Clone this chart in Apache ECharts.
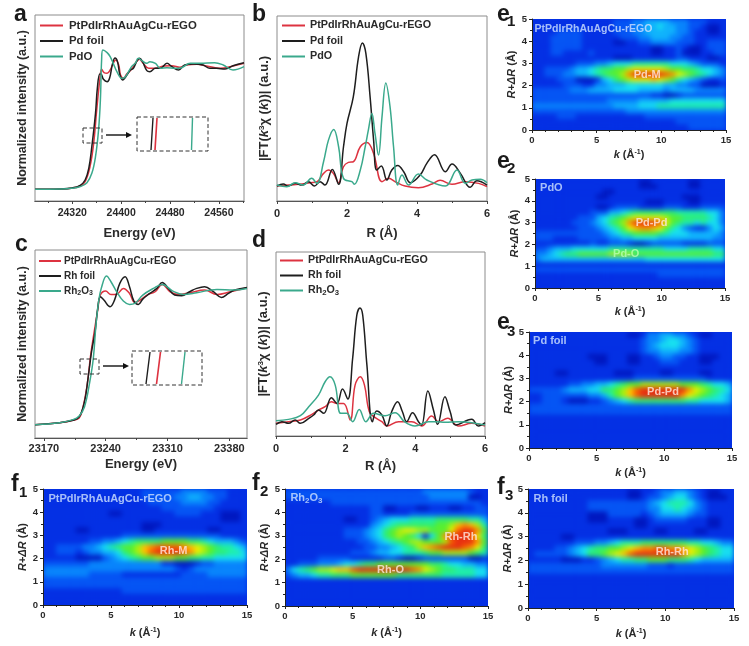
<!DOCTYPE html>
<html><head><meta charset="utf-8">
<style>
html,body{margin:0;padding:0;background:#fff}
#main{position:absolute;left:0;top:0;width:749px;height:646px;z-index:5}
.hw{position:absolute;overflow:hidden;background:#0430e4}
.hc{position:absolute;left:0;top:0;width:100%;height:100%;filter:blur(2.6px)}
</style>
<script src="https://cdn.jsdelivr.net/npm/echarts@6/dist/echarts.min.js"></script>
</head><body><div id="main"></div>
<script>
// ---------- line data: [x, intensity]
const aBlack=[[24259,35],[24300,36],[24319,39],[24333,47],[24341,63],[24347,98],[24352,163],[24358,263],[24361,338],[24365,381],[24367,381],[24371,365],[24377,358],[24381,368],[24386,413],[24390,429],[24394,418],[24398,378],[24403,363],[24407,371],[24415,393],[24420,398],[24426,421],[24430,428],[24435,418],[24442,391],[24447,388],[24456,398],[24464,398],[24475,413],[24483,403],[24494,393],[24504,408],[24518,411],[24534,408],[24545,398],[24556,398],[24570,396],[24583,406],[24601,415]];
const aRed=[[24259,35],[24300,36],[24319,38],[24333,45],[24341,58],[24349,103],[24355,173],[24360,273],[24365,363],[24368,395],[24372,385],[24377,383],[24382,393],[24387,413],[24391,423],[24396,408],[24399,378],[24404,368],[24409,381],[24417,395],[24423,413],[24430,425],[24436,413],[24445,398],[24456,398],[24469,405],[24483,406],[24496,401],[24507,408],[24524,410],[24540,405],[24562,398],[24583,405],[24601,413]];
const aGreen=[[24259,35],[24300,36],[24319,38],[24333,43],[24344,55],[24352,83],[24358,133],[24363,213],[24366,303],[24368,423],[24370,453],[24377,445],[24382,433],[24387,413],[24393,388],[24401,368],[24407,373],[24417,403],[24423,413],[24428,428],[24434,421],[24442,413],[24447,418],[24456,413],[24464,398],[24475,400],[24488,398],[24499,400],[24513,413],[24529,413],[24553,415],[24567,408],[24583,393],[24601,403]];
const bBlack=[[0,45],[.18,51],[.32,45],[.52,53],[.71,48],[.90,58],[1.07,45],[1.23,58],[1.37,48],[1.58,95],[1.76,50],[1.9,163],[2.0,233],[2.18,313],[2.33,433],[2.44,475],[2.54,443],[2.66,313],[2.76,183],[2.85,93],[2.98,105],[3.14,63],[3.28,93],[3.45,107],[3.62,88],[3.81,55],[4.09,78],[4.28,113],[4.5,139],[4.81,88],[5.0,111],[5.24,83],[5.52,41],[5.71,61],[6,48]];
const bRed=[[0,45],[.32,48],[.71,51],[.94,55],[1.14,58],[1.33,83],[1.47,93],[1.61,83],[1.76,55],[1.9,103],[2.04,116],[2.18,118],[2.38,163],[2.57,176],[2.76,143],[3.0,58],[3.19,68],[3.38,58],[3.66,45],[4.04,40],[4.43,51],[4.66,62],[5.0,50],[5.38,58],[5.76,53],[6,43]];
const bGreen=[[0,48],[.28,43],[.52,55],[.75,48],[.99,68],[1.14,53],[1.33,118],[1.47,183],[1.62,215],[1.76,163],[1.9,68],[2.14,58],[2.21,50],[2.38,93],[2.52,163],[2.61,213],[2.71,263],[2.8,203],[2.9,138],[3.0,253],[3.11,355],[3.23,283],[3.33,163],[3.45,48],[3.57,78],[3.76,48],[4.04,81],[4.28,63],[4.81,45],[5.14,93],[5.38,53],[5.57,63],[5.81,65],[6,55]];
const cBlack=[[23160,40],[23188,46],[23203,53],[23210,63],[23216,108],[23220,178],[23224,258],[23228,318],[23231,388],[23234,423],[23238,413],[23245,393],[23250,413],[23256,463],[23262,483],[23267,453],[23272,410],[23277,400],[23282,416],[23290,433],[23298,448],[23304,466],[23311,448],[23318,428],[23326,426],[23335,438],[23343,448],[23352,453],[23362,438],[23371,421],[23379,433],[23386,443],[23400,451]];
const cRed=[[23160,40],[23188,46],[23203,53],[23210,60],[23214,88],[23219,158],[23223,248],[23227,318],[23231,383],[23234,428],[23240,440],[23246,430],[23252,430],[23260,448],[23267,433],[23273,406],[23279,413],[23288,430],[23296,438],[23304,460],[23313,438],[23322,430],[23335,435],[23352,443],[23366,430],[23381,438],[23400,450]];
const cGreen=[[23160,40],[23188,46],[23203,55],[23210,66],[23216,93],[23222,168],[23226,238],[23229,338],[23232,408],[23235,448],[23241,485],[23246,468],[23252,440],[23260,410],[23267,400],[23273,403],[23282,428],[23294,448],[23304,460],[23316,440],[23328,430],[23343,435],[23366,445],[23385,443],[23400,448]];
const dBlack=[[0,35],[.17,43],[.36,38],[.55,48],[.70,38],[.94,53],[1.08,63],[1.22,78],[1.37,68],[1.59,115],[1.75,98],[1.91,141],[2.06,111],[2.2,233],[2.32,363],[2.41,385],[2.49,363],[2.61,213],[2.77,43],[2.89,75],[3.04,63],[3.18,30],[3.32,73],[3.49,103],[3.63,73],[3.75,43],[3.92,70],[4.09,43],[4.18,33],[4.36,135],[4.52,78],[4.64,35],[4.85,118],[5.0,73],[5.16,33],[5.62,50],[5.81,30],[6,40]];
const dRed=[[0,38],[.36,43],[.70,48],[1.03,65],[1.22,78],[1.41,88],[1.59,103],[1.75,98],[1.94,98],[2.13,48],[2.27,153],[2.42,178],[2.54,153],[2.68,73],[2.85,55],[3.04,43],[3.18,30],[3.52,43],[3.90,43],[4.18,30],[4.47,60],[4.66,43],[4.93,53],[5.24,30],[5.62,38],[6,30]];
const dGreen=[[0,46],[.36,50],[.7,61],[.94,88],[1.22,123],[1.41,163],[1.55,178],[1.7,153],[1.86,68],[2.03,68],[2.2,43],[2.39,80],[2.58,43],[2.8,68],[3.13,61],[3.42,70],[3.69,43],[3.99,30],[4.38,43],[4.61,43],[4.85,41],[5.24,43],[5.62,40],[6,33]];

// ---------- wavelet maps: top row is R = 5, bottom row R = 0; columns k = 0..15 step 0.5; level 0-f
const e1Map=[
"11111 11111 11122 23344 44333 22211 1","11111 11111 11122 23344 54433 22100 1","11112 22211 11122 23344 44433 21100 1",
"11122 22211 11112 22334 44332 21111 1","11122 22211 11100 11223 33322 21122 2","11122 22211 11111 11110 01121 00122 2",
"11122 11112 11111 11110 01120 00112 2","11111 11111 11100 01111 11122 11100 1","11111 11222 33455 56666 66555 43222 1",
"11222 23445 67788 9aaaa a9887 76554 3","11222 33445 67889 ceeee edca9 87654 3","11112 22000 14578 9aaab a9865 43211 2",
"11111 22211 33444 55555 54433 22000 1","22222 23334 44455 55444 43444 43333 3","22222 22222 22222 22221 10012 22222 2",
"22222 22222 22333 33444 44555 55555 5","33333 33333 33344 44555 66666 66666 6","22222 22222 22222 33333 33333 33333 3",
"11112 22111 11111 11122 22222 22222 2","11111 11111 11111 11111 11122 22222 2","11111 11111 11111 11111 11111 22222 2"];
const e2Map=[
"11111 11111 11111 11001 11111 00111 1","11111 11111 11111 11000 11111 00111 1","11111 11111 10011 11111 11111 11111 1",
"11111 11111 00111 11111 11110 00111 1","11111 11111 11111 11100 01111 00111 1","11111 11111 00122 22111 12221 11222 2",
"11111 11112 22445 67777 77766 66655 3","11111 11222 45678 9aaaa a9887 77765 3","11111 12223 45789 ceeee da876 65655 3",
"11111 11222 34568 abccb a8653 21135 4","22222 22222 23456 78888 76555 44444 3","22211 11222 22334 45555 44444 44443 3",
"11111 11112 11222 10012 22221 11122 2","22344 45555 55666 66666 65555 66665 5","33456 77888 88999 98888 88888 88887 7",
"34444 44444 44444 44455 55555 55555 5","11111 11111 11111 11111 11111 11111 1","22222 22222 22222 22222 22222 22222 2",
"11111 11111 11111 11111 22222 22222 2","11111 11111 11111 11111 11111 11111 1","11111 11111 11111 11111 11111 11111 1"];
const e3Map=[
"11111 11111 11111 00133 44332 10011 1","11111 11111 11111 11233 45543 21111 1","11111 11111 11111 11234 55543 21111 1",
"11111 11111 11111 11233 44433 21111 1","11111 11110 00111 00112 33221 10001 1","11111 11111 00111 00111 22211 10011 1",
"11111 11111 11111 11111 11111 11111 1","11110 01111 11100 01111 00111 10011 1","11111 11111 11111 12222 22222 22111 1",
"11111 12233 44567 88999 99988 87655 4","22222 34445 57789 bdeee eeeec a9876 5","11222 22223 34689 bdeee eeeca 98765 4",
"11222 10001 12345 67777 77776 65555 4","22222 22222 22222 22222 22222 22222 2","22222 22222 22222 22222 22222 22222 2",
"11111 11111 11111 11111 11111 11111 1","11111 11111 11111 11111 11111 11111 1","11111 11111 11111 11111 11111 11111 1",
"11111 11111 11111 11111 11111 11111 1","11111 11111 11111 11111 11111 11111 1","11111 11111 11111 11111 11111 11111 1"];
const f1Map=[
"11111 11111 11111 22222 23333 22211 1","11111 11111 11111 22222 33443 32211 1","11111 11111 11111 12222 23333 22111 1",
"11111 11111 11111 11122 22222 21111 1","11111 11111 00111 11111 22221 11000 1","11111 11111 11111 11111 11111 11000 1",
"11111 11111 11111 00011 11111 11111 1","11111 00111 11111 00111 11111 00111 1","11111 11111 11222 22222 22222 22111 1",
"11111 11223 34567 77788 88776 54443 2","11222 23345 67889 bcddd dcba9 87665 4","11222 12334 45789 bdeee edca9 87766 5",
"11111 00002 34567 88999 88776 65555 5","22222 22333 33333 33311 00012 23333 3","33333 33333 33333 33333 21233 33333 3",
"33333 33222 22111 11111 12222 33333 3","22222 22222 22222 22222 22222 22222 2","22222 22222 22222 22222 22222 22222 2",
"11111 11111 11222 22222 22222 22222 2","11111 11111 11111 11111 11111 11111 1","11111 11111 11111 11111 11111 11111 1"];
const f2Map=[
"22222 22222 22222 22222 23333 33321 1","22222 22222 22222 22222 22333 33300 1","11111 11222 22222 22222 22222 22222 1",
"11111 11111 11122 00111 00111 00112 2","11111 11111 11122 11112 22222 22222 2","11111 11110 01123 45556 66677 77766 4",
"11111 11111 11134 56777 77788 9bcb9 6","11111 11112 22345 789aa 99888 adeec 8","11111 11112 22345 78987 5158c eeeda 7",
"11111 11111 12234 56789 98889 deeec 8","11111 11111 11223 34567 9bcde eedca 7","11111 11111 22234 45566 67889 99987 6",
"11111 22222 11111 22100 12222 22200 1","11222 33345 56778 88888 88776 55443 3","35678 99abb deeee eeeed ca987 76665 5",
"23445 66777 88888 88777 77776 66665 5","11111 11111 11111 11111 11111 11111 1","11111 11111 11111 11111 11111 11111 1",
"11111 11111 11111 11111 11111 11111 1","11111 11111 11111 11111 11111 11111 1","11111 11111 11111 11111 11111 11111 1"];
const f3Map=[
"11111 11111 11111 00112 33443 21001 1","11111 11111 11111 00122 34553 21000 1","11111 11112 22222 22234 56665 32111 1",
"11111 11112 22222 22233 55654 32111 1","11111 11110 00222 22123 44443 22111 1","11111 11110 00111 10012 22221 11001 1",
"11111 11111 11111 10011 11111 11001 1","11111 11111 11000 11110 01111 00111 1","11111 00111 11111 11111 11111 11111 1",
"11111 11222 33456 66777 77776 65543 3","11112 23456 77889 abccd dccba 98765 5","12222 23457 789ab deeee eeeca 98765 5",
"11111 00011 23456 67788 87776 54444 4","22222 22222 23333 33322 21222 22222 2","22222 22222 22222 22222 22222 22222 2",
"11111 11111 11111 11111 11111 11111 1","11111 11111 11111 11111 11111 11111 1","11111 11111 11111 11111 11111 11111 1",
"11111 11111 11111 11111 11111 11111 1","11111 11111 11111 11111 11111 11111 1","11111 11111 11111 11111 11111 11111 1"];

const kCats=Array.from({length:31},(_,i)=>String(i/2));
const rCats=Array.from({length:21},(_,i)=>String(i/4));
const jet=['#0018c0','#0430e4','#0555f4','#0885fc','#10b4fc','#18e0f0','#20f0a8','#30f070','#58f030','#a8f010','#e8f000','#ffc000','#ff9000','#f86000','#e83010','#c81000'];
const FF='"Liberation Sans",Arial,sans-serif', INK='#2a2a2a';
const RED='#dd3340',BLK='#1e1e1e',GRN='#3aa98c';

// heat panels: rect = [left, top, right, bottom]
const heat=[
 {map:e1Map,rect:[532,19,726,130],tx:154,ty:513,cy:74,labels:[['Pd-M',8.9,2.5,'c',11],['PtPdIrRhAuAgCu-rEGO',.2,4.55,'l',10.5]]},
 {map:e2Map,rect:[535,179,725,288],tx:311,ty:516,cy:233,labels:[['Pd-Pd',9.2,3,'c',11],['Pd-O',7.2,1.55,'c',11,'#b8ffb0'],['PdO',.4,4.6,'l',11]]},
 {map:e3Map,rect:[529,332,732,448],tx:472,ty:508,cy:390,labels:[['Pd-Pd',9.9,2.43,'c',11],['Pd foil',.3,4.6,'l',11]]},
 {map:f1Map,rect:[43,489,247,605],tx:632,ty:23,cy:547,labels:[['Rh-M',9.6,2.35,'c',11],['PtPdIrRhAuAgCu-rEGO',.4,4.55,'l',11]]},
 {map:f2Map,rect:[285,489,488,606],tx:632,ty:266,cy:547,labels:[['Rh-Rh',13,2.95,'c',11],['Rh-O',7.8,1.55,'c',11],['Rh₂O₃',.4,4.6,'l',11]]},
 {map:f3Map,rect:[528,489,734,608],tx:633,ty:508,cy:548,labels:[['Rh-Rh',10.5,2.35,'c',11],['Rh foil',.4,4.6,'l',11]]}
];
heat.forEach(h=>{
 const [l,t,r,b]=h.rect;
 const w=document.createElement('div');w.className='hw';
 w.style.cssText=`left:${l}px;top:${t}px;width:${r-l}px;height:${b-t}px`;
 const c=document.createElement('div');c.className='hc';w.appendChild(c);document.body.appendChild(w);
 const data=[];
 h.map.forEach((row,ri)=>{[...row.replace(/ /g,'')].forEach((ch,ci)=>data.push([ci,20-ri,parseInt(ch,16)]));});
 echarts.init(c,null,{renderer:'canvas'}).setOption({animation:false,
  grid:{left:0,right:0,top:0,bottom:0},
  xAxis:{type:'category',data:kCats,show:false},
  yAxis:{type:'category',data:rCats,show:false},
  visualMap:{show:false,min:0,max:15,dimension:2,inRange:{color:jet}},
  series:[{type:'heatmap',data,progressive:0,itemStyle:{borderWidth:0}}]});
});

const rich={b:{fontStyle:'italic',fontWeight:'bold',fontFamily:FF},s:{fontSize:8,fontWeight:'bold',verticalAlign:'top',padding:[0,0,4,0],fontFamily:FF}};
const grids=[],xA=[],yA=[],series=[],legends=[];
function linePanel(o){
 const g=grids.length;
 grids.push({left:o.rect[0],top:o.rect[1],width:o.rect[2]-o.rect[0],height:o.rect[3]-o.rect[1],show:true,borderColor:'#8c8c8c',borderWidth:1,backgroundColor:'transparent'});
 const common={type:'value',gridIndex:g,min:o.xmin,max:o.xmax,splitLine:{show:false},position:'bottom',
  axisLine:{show:true,onZero:false,lineStyle:{color:'#555',width:1}}};
 xA.push(Object.assign({},common,{name:o.xName,nameLocation:'middle',nameGap:o.xGap,nameTextStyle:{fontFamily:FF,fontWeight:'bold',fontSize:13,color:INK},
  axisTick:{show:true,length:3,inside:false,lineStyle:{color:'#444'},customValues:o.major},
  axisLabel:{show:true,customValues:o.major,formatter:v=>String(v),fontFamily:FF,fontWeight:'bold',fontSize:o.lblSize||11,color:INK,margin:o.lblMargin||7,showMinLabel:true,showMaxLabel:true}}));
 const xi=xA.length-1;
 xA.push(Object.assign({},common,{axisLabel:{show:false},axisTick:{show:true,length:2,lineStyle:{color:'#444'},customValues:o.minor}}));
 yA.push({type:'value',gridIndex:g,min:0,max:o.ymax,splitLine:{show:false},axisLine:{show:false},axisTick:{show:false},axisLabel:{show:false},
  name:o.yName,nameLocation:'middle',nameRotate:90,nameGap:o.yGap,nameTextStyle:{fontFamily:FF,fontWeight:'bold',fontSize:o.yFont,color:INK,rich:Object.assign({},rich,{b:{fontStyle:'italic',fontWeight:'bold',fontSize:o.yFont,fontFamily:FF,color:INK}})}});
 const yi=yA.length-1;
 o.series.forEach(s=>series.push({type:'line',name:s[0],data:s[2],xAxisIndex:xi,yAxisIndex:yi,smooth:.4,showSymbol:false,
   lineStyle:{color:s[1],width:1.5},itemStyle:{color:s[1]},z:3}));
 legends.push({orient:'vertical',left:o.leg[0],top:o.leg[1],itemWidth:o.leg[4]||23,itemHeight:2,itemGap:o.leg[2],icon:'rect',padding:0,selectedMode:false,
   data:o.series.map(s=>s[0]),
   formatter:n=>n==='Rh₂O₃'?'Rh{t|2}O{t|3}':n,
   textStyle:{fontFamily:FF,fontWeight:'bold',fontSize:o.leg[3],color:INK,padding:[0,0,0,o.leg[5]||0],
     rich:{t:{fontFamily:FF,fontWeight:'bold',fontSize:o.leg[3]-3,color:INK,verticalAlign:'bottom',padding:[5,0,0,0]}}}});
}
const yTitleB='|FT({b|k}{s|3}χ ({b|k}))| (a.u.)';
linePanel({rect:[35,15,244,201],xmin:24259,xmax:24601,ymax:558,major:[24320,24400,24480,24560],minor:[24280,24360,24440,24520,24600],
 xName:'Energy (eV)',xGap:26,yName:'Normalized intensity (a.u.)',yGap:6,yFont:12.5,lblSize:10.5,
 leg:[40,20,4.5,11.4,23,1],series:[['PtPdIrRhAuAgCu-rEGO',RED,aRed],['Pd foil',BLK,aBlack],['PdO',GRN,aGreen]]});
linePanel({rect:[277,16,487,201],xmin:0,xmax:6,ymax:556,major:[0,2,4,6],minor:[1,3,5],
 xName:'R (Å)',xGap:26,yName:yTitleB,yGap:6,yFont:13,
 leg:[282,20,4.5,10.8],series:[['PtPdIrRhAuAgCu-rEGO',RED,bRed],['Pd foil',BLK,bBlack],['PdO',GRN,bGreen]]});
linePanel({rect:[35,250,247,438],xmin:23160,xmax:23400,ymax:563,major:[23170,23240,23310,23380],minor:[23205,23275,23345],lblMargin:5,
 xName:'Energy (eV)',xGap:20,yName:'Normalized intensity (a.u.)',yGap:6,yFont:12.5,
 leg:[39,256,5,10,22,-2],series:[['PtPdIrRhAuAgCu-rEGO',RED,cRed],['Rh foil',BLK,cBlack],['Rh₂O₃',GRN,cGreen]]});
linePanel({rect:[276,252,485,436],xmin:0,xmax:6,ymax:553,major:[0,2,4,6],minor:[1,3,5],
 xName:'R (Å)',xGap:24,yName:yTitleB,yGap:6,yFont:13,
 leg:[280,255,4,10.7],series:[['PtPdIrRhAuAgCu-rEGO',RED,dRed],['Rh foil',BLK,dBlack],['Rh₂O₃',GRN,dGreen]]});

heat.forEach(h=>{
 const g=grids.length,[l,t,r,b]=h.rect;
 grids.push({left:l,top:t,width:r-l,height:b-t,show:false});
 xA.push({type:'value',gridIndex:g,min:0,max:15,interval:5,position:'bottom',splitLine:{show:false},
  axisLine:{onZero:false,lineStyle:{color:'#222'}},axisTick:{length:3,lineStyle:{color:'#222'}},minorTick:{show:true,splitNumber:5,length:2,lineStyle:{color:'#222'}},
  axisLabel:{fontFamily:FF,fontWeight:'bold',fontSize:9.5,color:INK,margin:5},
  name:'{i|k} (Å{s|-1})',nameLocation:'middle',nameGap:h.tx-b-5,
  nameTextStyle:{fontFamily:FF,fontWeight:'bold',fontSize:11,color:INK,rich:{i:{fontStyle:'italic',fontWeight:'bold',fontSize:11,fontFamily:FF,color:INK},s:{fontSize:7,fontWeight:'bold',verticalAlign:'top',padding:[0,0,3,0],fontFamily:FF,color:INK}}}});
 yA.push({type:'value',gridIndex:g,min:0,max:5,interval:1,splitLine:{show:false},
  axisLine:{onZero:false,lineStyle:{color:'#222'}},axisTick:{length:3,lineStyle:{color:'#222'}},minorTick:{show:true,splitNumber:2,length:2,lineStyle:{color:'#222'}},
  axisLabel:{fontFamily:FF,fontWeight:'bold',fontSize:9.5,color:INK,margin:5},
  name:'{i|R}+{i|ΔR} (Å)',nameLocation:'middle',nameRotate:90,nameGap:l-h.ty-6,
  nameTextStyle:{fontFamily:FF,fontWeight:'bold',fontSize:11,color:INK,rich:{i:{fontStyle:'italic',fontWeight:'bold',fontSize:11,fontFamily:FF,color:INK}}}});
 const xi=xA.length-1,yi=yA.length-1;
 h.labels.forEach(a=>series.push({type:'scatter',xAxisIndex:xi,yAxisIndex:yi,symbolSize:0,silent:true,z:6,
   data:[[a[1],a[2]]],
   label:{show:true,position:a[3]==='c'?'inside':'right',distance:0,formatter:a[0].replace('₂','{t|2}').replace('₃','{t|3}'),fontFamily:FF,fontWeight:'bold',fontSize:a[4],
     color:a[5]||(a[3]==='c'?'#ffe8e0':'#cfe2ff'),rich:{t:{fontFamily:FF,fontWeight:'bold',fontSize:a[4]-3,color:'#cfe2ff',verticalAlign:'bottom',padding:[5,0,0,0]}}}}));
});

// annotations
const dash={stroke:'#333',lineWidth:1,lineDash:[4,2.5],fill:null};
const rect=(x,y,w,h)=>({type:'rect',shape:{x,y,width:w,height:h},style:dash,z:10});
const seg=(x1,y1,x2,y2,c,lw)=>({type:'line',shape:{x1,y1,x2,y2},style:{stroke:c,lineWidth:lw||1.4},z:10});
const tri=(x,y)=>({type:'polygon',shape:{points:[[x,y],[x-6,y-3],[x-6,y+3]]},style:{fill:'#111'},z:10});
const txt=(t,x,y,s)=>({type:'text',x,y,style:{text:t,fontFamily:FF,fontWeight:'bold',fontSize:s,fill:'#1a1a1a',textVerticalAlign:'middle'},z:10});
const elements=[
 rect(83,128,19,15),seg(106,135,126,135,'#111',1.4),tri(132,135),rect(137,117,71,34),
 seg(153,118,151,150,BLK),seg(157,118,155,150,RED,1.6),seg(192.5,118,191.5,150,GRN),
 rect(80,359,19,15),seg(103,366,124,366,'#111',1.4),tri(129,366),rect(132,351,70,34),
 seg(150,352,146,384,BLK),seg(160.5,352,156.5,384,RED,1.6),seg(185,352,181.5,384,GRN),
 txt('a',14,15,23),txt('b',252,15,23),txt('c',15,245,23),txt('d',252,241,23),
 txt('e',497,15,23),txt('1',507,22,15),
 txt('e',497,162,23),txt('2',507,169,15),
 txt('e',497,323,23),txt('3',507,332,15),
 txt('f',11,485,23),txt('1',19,493,15),
 txt('f',252,484,23),txt('2',260,492,15),
 txt('f',497,488,23),txt('3',505,496,15)
];
echarts.init(document.getElementById('main')).setOption({animation:false,grid:grids,xAxis:xA,yAxis:yA,series,legend:legends,graphic:{elements}});
</script></body></html>
